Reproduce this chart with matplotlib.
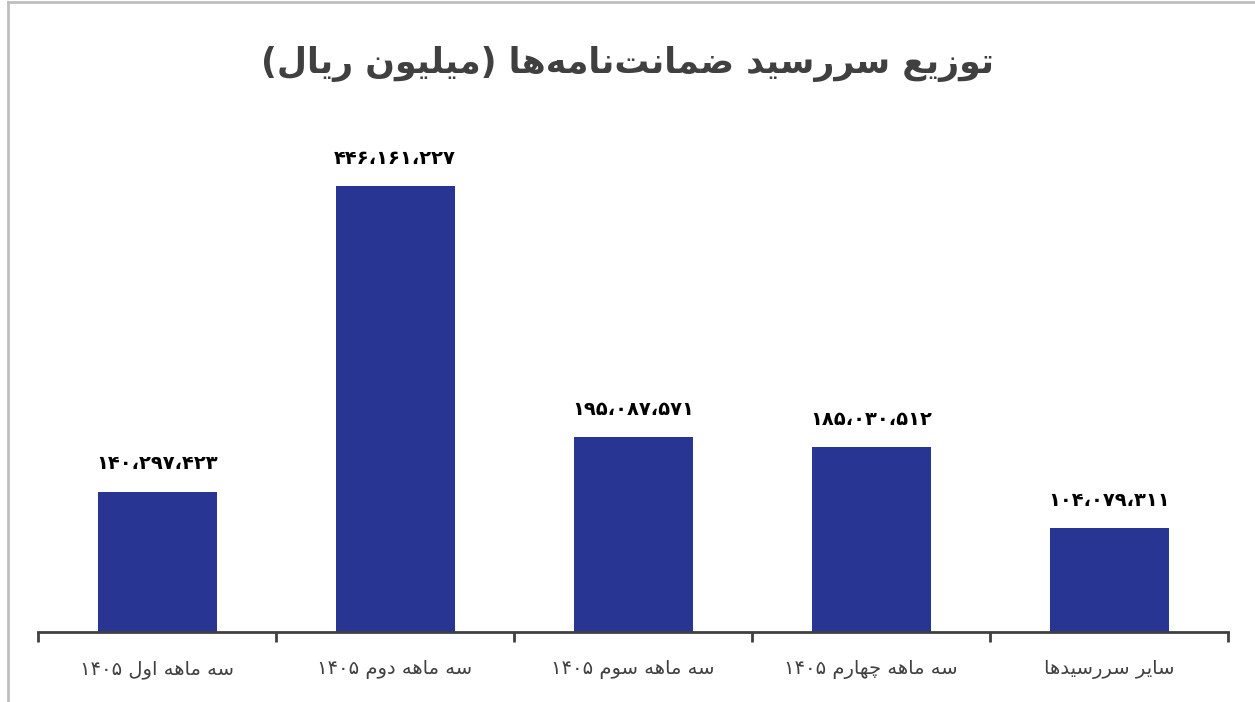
import re
import matplotlib
matplotlib.use("Agg")
import matplotlib.pyplot as plt
from matplotlib.lines import Line2D

# data
title = "توزیع سررسید ضمانت\u200cنامه\u200cها (میلیون ریال)"
categories = ["سه ماهه اول ۱۴۰۵", "سه ماهه دوم ۱۴۰۵", "سه ماهه سوم ۱۴۰۵",
              "سه ماهه چهارم ۱۴۰۵", "سایر سررسیدها"]
values = [140297423, 446161227, 195087571, 185030512, 104079311]

# --- minimal Persian shaping (matplotlib has no bidi / joining) ---
# letter: (isolated, final, initial, medial); 2-tuple = right-joining only
FORMS = {
    "ا": (0xFE8D, 0xFE8E), "آ": (0xFE81, 0xFE82),
    "د": (0xFEA9, 0xFEAA), "ذ": (0xFEAB, 0xFEAC),
    "ر": (0xFEAD, 0xFEAE), "ز": (0xFEAF, 0xFEB0),
    "ژ": (0xFB8A, 0xFB8B), "و": (0xFEED, 0xFEEE),
    "ب": (0xFE8F, 0xFE90, 0xFE91, 0xFE92), "پ": (0xFB56, 0xFB57, 0xFB58, 0xFB59),
    "ت": (0xFE95, 0xFE96, 0xFE97, 0xFE98), "ج": (0xFE9D, 0xFE9E, 0xFE9F, 0xFEA0),
    "چ": (0xFB7A, 0xFB7B, 0xFB7C, 0xFB7D), "ح": (0xFEA1, 0xFEA2, 0xFEA3, 0xFEA4),
    "خ": (0xFEA5, 0xFEA6, 0xFEA7, 0xFEA8), "س": (0xFEB1, 0xFEB2, 0xFEB3, 0xFEB4),
    "ش": (0xFEB5, 0xFEB6, 0xFEB7, 0xFEB8), "ص": (0xFEB9, 0xFEBA, 0xFEBB, 0xFEBC),
    "ض": (0xFEBD, 0xFEBE, 0xFEBF, 0xFEC0), "ط": (0xFEC1, 0xFEC2, 0xFEC3, 0xFEC4),
    "ع": (0xFEC9, 0xFECA, 0xFECB, 0xFECC), "غ": (0xFECD, 0xFECE, 0xFECF, 0xFED0),
    "ف": (0xFED1, 0xFED2, 0xFED3, 0xFED4), "ق": (0xFED5, 0xFED6, 0xFED7, 0xFED8),
    "ک": (0xFB8E, 0xFB8F, 0xFB90, 0xFB91), "گ": (0xFB92, 0xFB93, 0xFB94, 0xFB95),
    "ل": (0xFEDD, 0xFEDE, 0xFEDF, 0xFEE0), "م": (0xFEE1, 0xFEE2, 0xFEE3, 0xFEE4),
    "ن": (0xFEE5, 0xFEE6, 0xFEE7, 0xFEE8), "ه": (0xFEE9, 0xFEEA, 0xFEEB, 0xFEEC),
    "ی": (0xFBFC, 0xFBFD, 0xFBFE, 0xFBFF),
}
FA_DIGITS = str.maketrans("0123456789", "۰۱۲۳۴۵۶۷۸۹")


def shape(s):
    out = []
    for i, c in enumerate(s):
        if c not in FORMS:
            out.append(c)
            continue
        prev = s[i - 1] if i > 0 else ""
        nxt = s[i + 1] if i + 1 < len(s) else ""
        j_prev = prev in FORMS and len(FORMS[prev]) == 4
        j_next = len(FORMS[c]) == 4 and nxt in FORMS
        f = FORMS[c]
        if j_prev and j_next:
            out.append(chr(f[3]))
        elif j_prev:
            out.append(chr(f[1]))
        elif j_next:
            out.append(chr(f[2]))
        else:
            out.append(chr(f[0]))
    vis = "".join(out).replace("\u200c", "")[::-1]
    vis = re.sub(r"[۰-۹0-9]+", lambda m: m.group(0)[::-1], vis)
    return vis.translate(str.maketrans("()", ")("))


def fa_num(v):
    return f"{v:,}".replace(",", "،").translate(FA_DIGITS)


plt.rcParams["font.family"] = ["DejaVu Sans"]
bar_color = "#283593"
text_color = "#404040"

fig = plt.figure(figsize=(12.55, 7.02), dpi=100)
ax = fig.add_axes([38 / 1255, 1 - 632 / 702, 1190 / 1255, 500 / 702])

x = list(range(len(categories)))
bars = ax.bar(x, values, width=0.5, color=bar_color, zorder=2)
ax.set_xlim(-0.5, len(categories) - 0.5)
ax.set_ylim(0, 500e6)

for b, v in zip(bars, values):
    ax.annotate(fa_num(v), (b.get_x() + b.get_width() / 2, v),
                xytext=(0, 20), textcoords="offset points",
                ha="center", va="center", fontsize=14, fontweight="bold",
                color="black",
                bbox=dict(boxstyle="square,pad=0.3", fc="white", ec="none", alpha=0.9))

for s in ["top", "right", "left"]:
    ax.spines[s].set_visible(False)
ax.spines["bottom"].set_color(text_color)
ax.spines["bottom"].set_linewidth(2)
ax.set_yticks([])
ax.set_xticks(x)
ax.set_xticklabels([shape(c) for c in categories], fontsize=14, color=text_color)
ax.tick_params(axis="x", which="major", length=0, pad=20)
ax.set_xticks([i - 0.5 for i in range(len(categories) + 1)], minor=True)
ax.tick_params(axis="x", which="minor", length=7, width=2, color=text_color)

fig.text(0.5, 1 - 64 / 702, shape(title), ha="center", va="center",
         fontsize=25, fontweight="bold", color=text_color)

# light frame on the left and top edges
frame = dict(color="#bfbfbf", linewidth=2, transform=fig.transFigure)
fig.add_artist(Line2D([8 / 1255, 8 / 1255], [0, 1 - 2 / 702], **frame))
fig.add_artist(Line2D([8 / 1255, 1], [1 - 2 / 702, 1 - 2 / 702], **frame))

fig.savefig("out.png", dpi=100)
